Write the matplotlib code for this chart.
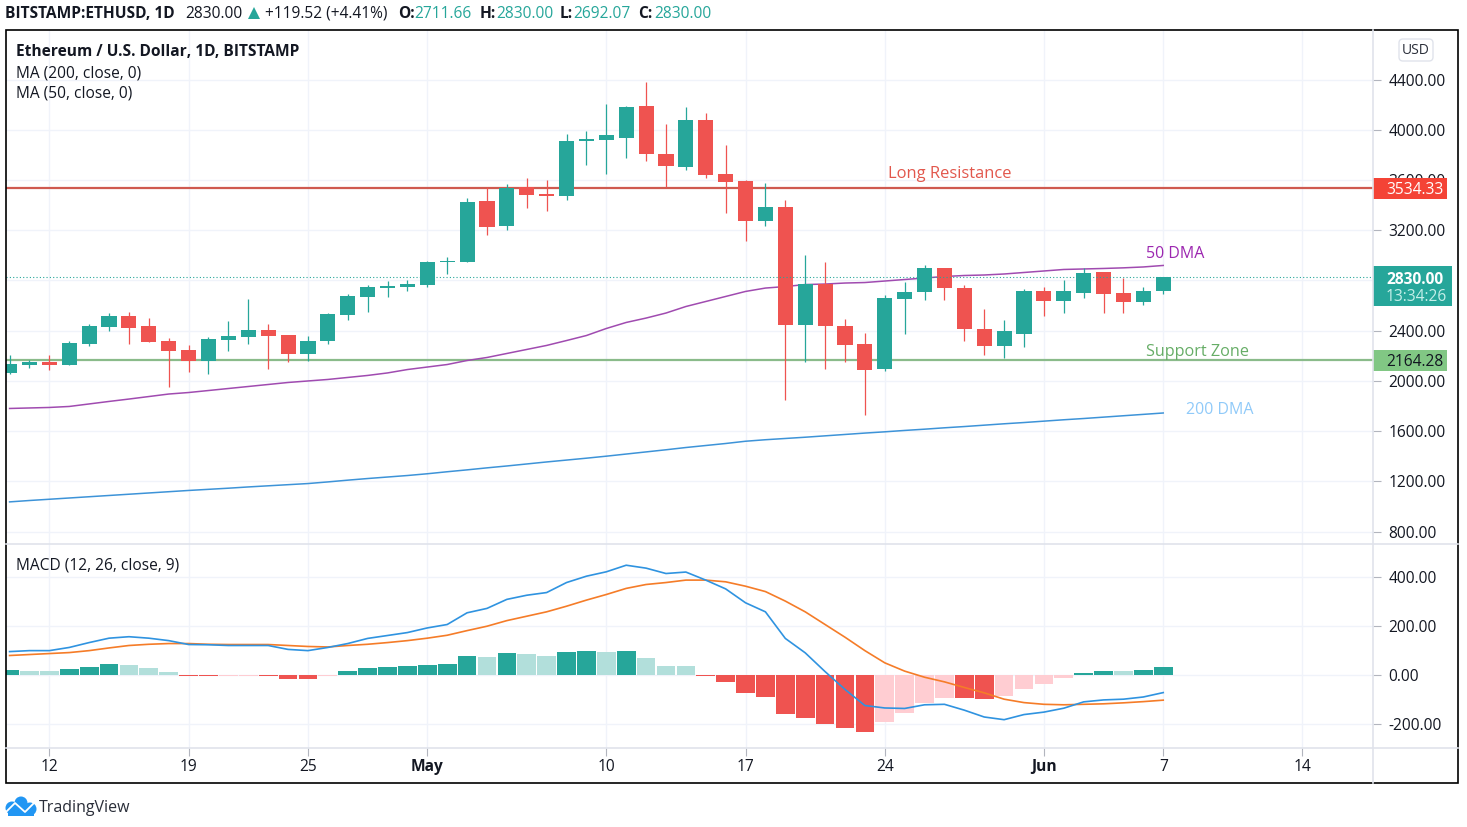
import matplotlib
matplotlib.use("Agg")
import matplotlib.pyplot as plt
from matplotlib.patches import Rectangle, FancyBboxPatch, Circle, Polygon
from matplotlib.transforms import blended_transform_factory
import numpy as np

# ---------- data ----------
opens = [2059,2130,2154,2130,2297,2425,2520,2433,2321,2242,2162,2329,2353,2401,2369,2210,2321,2528,2664,2743,
         2751,2767,2943,2943,3436,3237,3540,3492,3476,3914,3922,3938,4185,3803,3707,4081,3651,3588,3277,3381,
         2441,2775,2433,2297,2098,2648,2704,2895,2736,2409,2274,2377,2712,2632,2696,2863,2696,2624,2711.66]
highs = [2202,2165,2202,2321,2449,2544,2552,2497,2345,2282,2353,2473,2648,2449,2369,2361,2544,2688,2767,2799,
         2807,2958,2990,3460,3540,3564,3612,3596,3962,3986,4201,4185,4384,4042,4177,4137,3882,3596,3572,3444,
         3000,2943,2489,2385,2680,2791,2919,2895,2767,2576,2481,2728,2744,2807,2895,2863,2823,2751,2830]
lows  = [2051,2106,2090,2130,2274,2393,2297,2313,1947,2074,2051,2234,2297,2098,2154,2162,2297,2481,2552,2664,
         2719,2751,2847,2943,3158,3205,3373,3349,3444,3723,3651,3771,3747,3540,3683,3619,3333,3110,3237,1844,
         2154,2098,2154,1724,2082,2377,2640,2640,2321,2202,2178,2266,2520,2544,2656,2544,2544,2608,2692.07]
closes= [2138,2154,2130,2305,2433,2520,2417,2313,2234,2162,2337,2361,2401,2361,2210,2321,2536,2672,2751,2759,
         2775,2950,2953,3428,3229,3532,3484,3476,3914,3930,3954,4177,3803,3715,4081,3643,3580,3277,3381,2441,
         2775,2433,2289,2090,2656,2704,2895,2736,2409,2274,2393,2712,2632,2712,2855,2688,2624,2712,2830]
ma50 = [1780,1784,1788,1796,1816,1836,1855,1875,1895,1907,1923,1939,1955,1971,1987,1999,2011,2027,2043,2063,
        2090,2110,2130,2162,2186,2218,2250,2282,2321,2361,2417,2465,2500,2540,2592,2632,2672,2712,2739,2751,
        2767,2771,2779,2783,2795,2807,2819,2831,2839,2843,2851,2863,2875,2887,2891,2895,2900,2907,2919]
ma200 = [1036,1047,1057,1067,1077,1087,1097,1107,1117,1127,1136,1145,1155,1164,1173,1182,1195,1209,1222,1234,
         1246,1260,1276,1291,1307,1322,1338,1354,1369,1384,1400,1417,1434,1451,1469,1485,1501,1519,1531,1541,
         1551,1562,1573,1584,1594,1605,1615,1626,1636,1647,1658,1668,1679,1690,1700,1711,1722,1733,1744]
macd = [96,100,100,113,133,151,157,151,141,125,124,121,121,121,105,100,113,129,150,162,
        174,193,207,255,273,310,327,338,379,405,423,450,438,416,422,389,353,296,259,150,
        91,14,-59,-125,-135,-137,-122,-120,-144,-172,-183,-162,-152,-136,-110,-102,-99,-90,-72]
signal = [80,84,88,92,100,111,121,126,129,129,126,125,125,125,121,117,115,121,126,133,
          141,151,163,182,200,223,241,259,282,307,330,355,371,379,389,389,382,364,342,303,
          259,207,155,100,50,16,-9,-28,-51,-73,-99,-113,-120,-122,-120,-118,-114,-109,-103]
hist = [21,16,16,25,33,45,41,29,12,-6,-6,-6,-6,-6,-18,-18,-6,16,27,31,
        35,43,47,76,72,91,87,78,95,99,95,99,70,37,37,-3,-30,-72,-89,-159,
        -175,-200,-216,-233,-192,-155,-114,-93,-93,-97,-85,-56,-36,-14,10,15,15,20,31]
hist_kind = list("GLLGGGLLL" "RRPPRRRP" "GGGGGGGL" "GLLGGLGLLL" "RRRRRRRRR" "PPPP" "RR" "PPPP" "GGLGG")
price_ticks = [800,1200,1600,2000,2400,2800,3200,3600,4000,4400]
price_tick_labels = ["800.00","1200.00","1600.00","2000.00","2400.00","","3200.00","3600.00","4000.00","4400.00"]
macd_ticks = [-200,0,200,400]
time_ticks = [2,9,15,21,30,37,44,52,58,65]
time_labels = ["12","19","25","May","10","17","24","Jun","7","14"]
resistance = 3534.33
support = 2164.28
last_price = 2830.00

# ---------- style ----------
plt.rcParams['font.family'] = ['Open Sans', 'DejaVu Sans']
UP, DOWN = '#26a69a', '#ef5350'
KIND = {'G': '#26a69a', 'L': '#b2dfdb', 'R': '#ef5350', 'P': '#ffcdd2'}
GRID = '#f0f3fa'
SEP = '#e0e3eb'
TXT = '#131722'
FS = 11.2
W, H = 1467, 827

fig = plt.figure(figsize=(W/100, H/100), dpi=100, facecolor='white')
def axpx(x0, y0, x1, y1, **kw):
    return fig.add_axes([x0/W, 1-y1/H, (x1-x0)/W, (y1-y0)/H], **kw)

L, R = 5.5, 1373
ax = axpx(L, 29.5, R, 543.5)
am = axpx(L, 543.5, R, 747.5, sharex=ax)
xlim = ((L-9.6)/19.89, (R-9.6)/19.89)
idx = np.arange(len(opens))

for a in (ax, am):
    a.set_facecolor('white')
    for s in a.spines.values():
        s.set_visible(False)
    a.set_axisbelow(True)
    a.grid(True, color=GRID, lw=1.0)
    a.yaxis.tick_right()
    a.tick_params(axis='y', length=6, width=0.8, color='#b2b5be', pad=5, labelsize=FS, labelcolor=TXT)
ax.set_xlim(*xlim)
ax.set_ylim(4400-464*7.9643, 4400+50*7.9643)
am.set_ylim(-297, 539)
ax.set_yticks(price_ticks, price_tick_labels)
am.set_yticks(macd_ticks, [f"{v:.2f}" for v in macd_ticks])
am.set_xticks(time_ticks, time_labels)
am.tick_params(axis='x', length=6, width=0.8, color='#b2b5be', pad=2.5, labelsize=FS, labelcolor=TXT)
ax.tick_params(axis='x', length=0, labelbottom=False)
for t, s in zip(am.get_xticklabels(), time_labels):
    if s in ("May", "Jun"):
        t.set_fontweight('bold')

# price pane
ax.axhline(resistance, color='#cf5a50', lw=1.6, zorder=2)
ax.axhline(support, color='#8abb8a', lw=1.6, zorder=2)
ax.plot(idx, ma200, color='#3d93d8', lw=1.1, zorder=2)
ax.plot(idx, ma50, color='#a04bb0', lw=1.1, zorder=2)
for i in idx:
    c = UP if closes[i] >= opens[i] else DOWN
    ax.vlines(i, lows[i], highs[i], color=c, lw=0.9, zorder=3)
    lo, hi = min(opens[i], closes[i]), max(opens[i], closes[i])
    ax.bar(i, hi-lo, bottom=lo, width=0.76, color=c, lw=0, zorder=4)
ax.axhline(last_price, color=UP, lw=0.8, ls=(0, (1, 2)), zorder=5)

# macd pane
am.bar(idx, hist, width=0.94, color=[KIND[k] for k in hist_kind], lw=0, zorder=2)
am.plot(idx, signal, color='#f57c28', lw=1.2, zorder=3)
am.plot(idx, macd, color='#2f93e0', lw=1.2, zorder=4)

# price tags on the scale
tr = blended_transform_factory(ax.transAxes, ax.transData)
unit = (ax.get_ylim()[1]-ax.get_ylim()[0]) / 514
axw = R - L
def tag(val, wpx, up, down, col):
    ax.add_patch(FancyBboxPatch((1.0, val-down*unit), wpx/axw, (up+down)*unit, transform=tr,
                 boxstyle="square,pad=0", fc=col, ec='none', clip_on=False, zorder=10))
tag(resistance, 74, 10.5, 10.5, '#f44336')
tag(last_price, 79, 10.5, 29, '#26a69a')
tag(support, 74, 10.5, 10.5, '#81c784')

# overlay in pixels for text and frame
ov = fig.add_axes([0, 0, 1, 1], zorder=20)
ov.set_xlim(0, W); ov.set_ylim(H, 0); ov.axis('off'); ov.patch.set_alpha(0)
ov.plot([L, 1458], [544, 544], color=SEP, lw=1.2)
ov.plot([L, 1458], [748, 748], color=SEP, lw=1.2)
ov.plot([R, R], [30, 783], color=SEP, lw=1.2)
ov.add_patch(Rectangle((L, 30), 1458-L, 753, fc='none', ec='black', lw=1.2))

def T(x, y, s, **kw):
    kw.setdefault('color', TXT); kw.setdefault('fontsize', FS); kw.setdefault('va', 'center')
    return ov.text(x, y+0.5, s, **kw)

# scale tag text
T(1386, 189.5, "3534.33", color='white')
T(1386, 279, "2830.00", color='white', fontweight='bold')
T(1386, 296.5, "13:34:26", color='#c5efe9')
T(1386, 361.5, "2164.28", color=TXT)
ov.add_patch(FancyBboxPatch((1399, 39), 34, 22, boxstyle="round,pad=0,rounding_size=4", fc='white', ec=SEP, lw=1))
T(1416, 50, "USD", ha='center', color='#2a2e39', fontsize=10)

# header
T(5, 13.5, "BITSTAMP:ETHUSD, 1D", fontweight='bold')
T(185, 13.5, "2830.00")
ov.add_patch(Polygon([[248, 19], [260, 19], [254, 7]], closed=True, fc=UP, ec='none'))
T(265, 13.5, "+119.52 (+4.41%)")
for xl, lab, xv, val in [(398, "O:", 414, "2711.66"), (480, "H:", 496, "2830.00"),
                         (560, "L:", 573, "2692.07"), (638, "C:", 654, "2830.00")]:
    T(xl, 13.5, lab, fontweight='bold')
    T(xv, 13.5, val, color=UP)

# legends
T(16, 51.5, "Ethereum / U.S. Dollar, 1D, BITSTAMP", fontweight='bold')
T(16, 72.5, "MA (200, close, 0)")
T(16, 93.5, "MA (50, close, 0)")
T(16, 565.5, "MACD (12, 26, close, 9)")

# annotations
T(888, 173, "Long Resistance", color='#e2574c', fontsize=11.9)
T(1146, 253.5, "50 DMA", color='#9c27b0', fontsize=11.5)
T(1146, 351, "Support Zone", color='#66ad66', fontsize=11.7)
T(1186, 409.5, "200 DMA", color='#90caf9', fontsize=11.5)

# logo
BL = '#2196f3'
for cx, cy, r in [(12, 808, 6.5), (21, 803, 6.5), (30, 809, 6.5)]:
    ov.add_patch(Circle((cx, cy), r, fc=BL, ec='none'))
ov.add_patch(Rectangle((8, 808), 26, 8, fc=BL, ec='none'))
ov.plot([6, 15, 25, 34], [812, 803, 812, 803], color='white', lw=1.3)
T(39, 807, "TradingView", fontsize=11.5, color='#2a2e39')

fig.savefig("out.png", dpi=100, facecolor='white')
